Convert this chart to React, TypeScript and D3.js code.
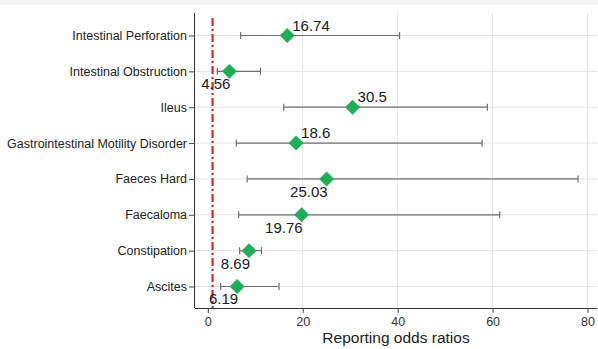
import React, { useEffect, useRef } from 'react';
import * as d3 from 'd3';

const categories = [
  'Intestinal Perforation',
  'Intestinal Obstruction',
  'Ileus',
  'Gastrointestinal Motility Disorder',
  'Faeces Hard',
  'Faecaloma',
  'Constipation',
  'Ascites',
];
const ror = [16.74, 4.56, 30.5, 18.6, 25.03, 19.76, 8.69, 6.19];
const ciLow = [6.9, 2.0, 16.0, 6.0, 8.3, 6.5, 6.7, 2.7];
const ciHigh = [40.4, 11.1, 58.9, 57.8, 78.0, 61.5, 11.3, 15.0];
// where the value label sits relative to its diamond
const labelSide = ['above', 'below', 'above', 'above', 'below', 'below', 'below', 'below'];
const xTicks = [0, 20, 40, 60, 80];
const refValue = 1;

const W = 598;
const H = 349;

export default function App() {
  const svgRef = useRef<SVGSVGElement | null>(null);

  useEffect(() => {
    const svg = d3.select(svgRef.current);
    svg.selectAll('*').remove();

    const left = 195, right = 597, top = 13, bottom = 308;
    const font = '"Liberation Sans", Arial, sans-serif';

    const x = d3.scaleLinear().domain([-2.7, 82]).range([left, right]);
    const y = d3.scalePoint<string>().domain(categories).range([top + 1, bottom]).padding(0.6);

    svg.append('rect').attr('width', W).attr('height', H).attr('fill', '#fff');
    svg.append('rect').attr('width', W).attr('height', 5).attr('fill', '#f3f4f4');

    // grid
    const grid = svg.append('g').attr('stroke', '#e3e3e3').attr('stroke-width', 1);
    xTicks.filter(t => t > 0).forEach(t => {
      grid.append('line')
        .attr('x1', x(t)).attr('x2', x(t))
        .attr('y1', top).attr('y2', bottom);
    });
    categories.forEach(c => {
      grid.append('line')
        .attr('x1', left).attr('x2', right)
        .attr('y1', y(c)!).attr('y2', y(c)!);
    });

    // reference line at 1
    svg.append('line')
      .attr('x1', x(refValue)).attr('x2', x(refValue))
      .attr('y1', 18).attr('y2', bottom)
      .attr('stroke', '#d42a25')
      .attr('stroke-width', 2.2)
      .attr('stroke-dasharray', '8,3,2,3');

    // axes
    const yAxis = d3.axisLeft(y).tickSize(6).tickPadding(2);
    const gy = svg.append('g').attr('transform', `translate(${left},0)`).call(yAxis);
    gy.select('.domain').attr('stroke', '#333').attr('d', `M-0.5,${top}V${bottom}`);
    gy.selectAll('.tick line').attr('stroke', '#444');
    gy.selectAll('.tick text')
      .attr('fill', '#222')
      .style('font-family', font)
      .style('font-size', '12.5px');

    const xAxis = d3.axisBottom(x).tickValues(xTicks).tickSize(5).tickPadding(4);
    const gx = svg.append('g').attr('transform', `translate(0,${bottom})`).call(xAxis);
    gx.select('.domain').attr('stroke', '#333').attr('d', `M${left},0.5H${right}`);
    gx.selectAll('.tick line').attr('stroke', '#444');
    gx.selectAll('.tick text')
      .attr('fill', '#333')
      .style('font-family', font)
      .style('font-size', '12.5px');

    svg.append('text')
      .attr('x', (left + right) / 2)
      .attr('y', 343)
      .attr('text-anchor', 'middle')
      .attr('fill', '#222')
      .style('font-family', font)
      .style('font-size', '15.5px')
      .text('Reporting odds ratios');

    // error bars
    const bars = svg.append('g').attr('stroke', '#6f6f6f').attr('stroke-width', 1.2);
    categories.forEach((c, i) => {
      const cy = y(c)!;
      bars.append('line').attr('x1', x(ciLow[i])).attr('x2', x(ciHigh[i])).attr('y1', cy).attr('y2', cy);
      [ciLow[i], ciHigh[i]].forEach(v => {
        bars.append('line').attr('x1', x(v)).attr('x2', x(v)).attr('y1', cy - 3.5).attr('y2', cy + 3.5);
      });
    });

    // diamonds
    const diamond = d3.symbol().type(d3.symbolSquare).size(112);
    svg.append('g').selectAll('path')
      .data(categories)
      .enter()
      .append('path')
      .attr('d', diamond)
      .attr('transform', (c, i) => `translate(${x(ror[i])},${y(c)}) rotate(45)`)
      .attr('fill', '#21ad57');

    // value labels
    svg.append('g').selectAll('text')
      .data(categories)
      .enter()
      .append('text')
      .attr('x', (c, i) => labelSide[i] === 'above' ? x(ror[i]) + 5 : x(ror[i]) + 1)
      .attr('y', (c, i) => labelSide[i] === 'above' ? y(c)! - 5 : y(c)! + 18)
      .attr('text-anchor', (c, i) => labelSide[i] === 'above' ? 'start' : 'end')
      .attr('fill', '#1a1a1a')
      .style('font-family', font)
      .style('font-size', '15px')
      .text((c, i) => String(ror[i]));
  }, []);

  return (
    <div style={{ position: 'absolute', top: 0, left: 0, width: W, height: H }}>
      <svg ref={svgRef} width={W} height={H} style={{ display: 'block' }} />
    </div>
  );
}
